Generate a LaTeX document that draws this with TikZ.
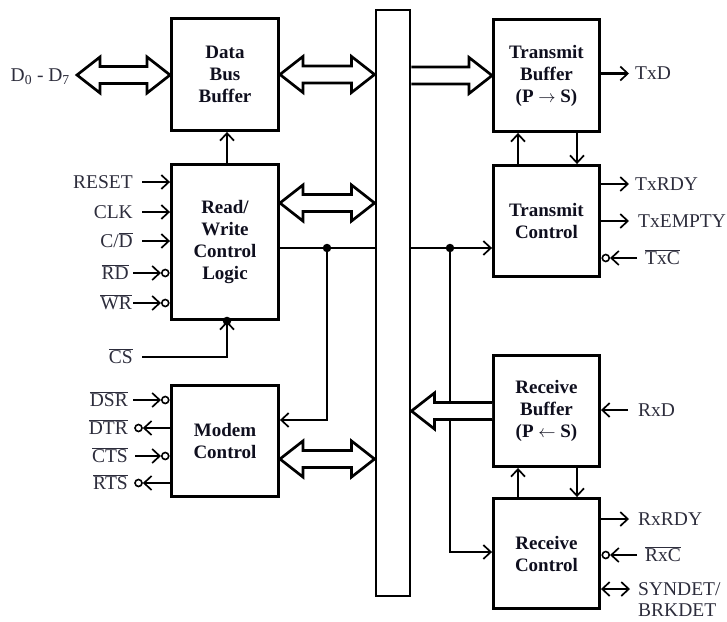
\documentclass[tikz,border=0pt]{standalone}
\usepackage{fontspec}
\setmainfont{Liberation Serif}
\usetikzlibrary{arrows.meta,calc}
\definecolor{lblc}{RGB}{45,45,60}
\definecolor{boxc}{RGB}{15,15,30}
\newcommand{\ovl}[1]{$\overline{\mbox{#1}}$}
% hollow double arrow, tips at #1 (left) and #2 (right)
\newcommand{\hdbl}[2]{\path[hollow] let \p1=#1, \p2=#2 in
 (\x1,\y1) -- (\x1+23pt,\y1+18pt) -- (\x1+23pt,\y1+8.5pt) -- (\x2-23pt,\y1+8.5pt) -- (\x2-23pt,\y1+18pt) -- (\x2,\y1) -- (\x2-23pt,\y1-18pt) -- (\x2-23pt,\y1-8.5pt) -- (\x1+23pt,\y1-8.5pt) -- (\x1+23pt,\y1-18pt) -- cycle;}
% hollow arrow, flat at #1, tip at #2 (pointing right)
\newcommand{\hright}[2]{\fill[white] let \p1=#1, \p2=#2 in
 (\x1,\y1+8.5pt) -- (\x2-23pt,\y1+8.5pt) -- (\x2-23pt,\y1+18pt) -- (\x2,\y1) -- (\x2-23pt,\y1-18pt) -- (\x2-23pt,\y1-8.5pt) -- (\x1,\y1-8.5pt) -- cycle;
 \draw[hollowline] let \p1=#1, \p2=#2 in
 (\x1,\y1+8.5pt) -- (\x2-23pt,\y1+8.5pt) -- (\x2-23pt,\y1+18pt) -- (\x2,\y1) -- (\x2-23pt,\y1-18pt) -- (\x2-23pt,\y1-8.5pt) -- (\x1,\y1-8.5pt);}
% hollow arrow, tip at #1 (pointing left), flat at #2
\newcommand{\hleft}[2]{\fill[white] let \p1=#1, \p2=#2 in
 (\x2,\y1+8.5pt) -- (\x1+23pt,\y1+8.5pt) -- (\x1+23pt,\y1+18pt) -- (\x1,\y1) -- (\x1+23pt,\y1-18pt) -- (\x1+23pt,\y1-8.5pt) -- (\x2,\y1-8.5pt) -- cycle;
 \draw[hollowline] let \p1=#1, \p2=#2 in
 (\x2,\y1+8.5pt) -- (\x1+23pt,\y1+8.5pt) -- (\x1+23pt,\y1+18pt) -- (\x1,\y1) -- (\x1+23pt,\y1-18pt) -- (\x1+23pt,\y1-8.5pt) -- (\x2,\y1-8.5pt);}
\begin{document}
\begin{tikzpicture}[x=1pt,y=-1pt,
 box/.style={draw, line width=2.9pt, inner sep=0pt, align=center, text=boxc, font=\fontsize{19}{22}\selectfont\bfseries},
 lbl/.style={inner sep=0pt, text=lblc, font=\fontsize{19.5}{22}\selectfont, text height=12.9pt, text depth=0pt},
 tipb/.tip={Straight Barb[length=7.5pt,width=14pt,line width=1.7pt]},
 sig/.style={line width=2.8pt, -tipb},
 sigo/.style={line width=2pt, -tipb},
 bub/.style={circle, draw, fill=white, line width=1.6pt, minimum size=7pt, inner sep=0pt},
 dotn/.style={circle, fill, minimum size=8.5pt, inner sep=0pt},
 hollow/.style={draw, fill=white, line width=2.7pt, line join=miter},
 hollowline/.style={draw, line width=2.7pt, line join=miter}]
\useasboundingbox (0,0) rectangle (727,621);

% blocks
\node[box, minimum width=107pt, minimum height=112pt] (dbb) at (225,74.5) {Data\\Bus\\Buffer};
\node[box, minimum width=107pt, minimum height=155pt] (rw) at (225,242) {Read/\\Write\\Control\\Logic};
\node[box, minimum width=107pt, minimum height=111pt] (mdm) at (225,441) {Modem\\Control};
\node[draw, fill=white, line width=2.9pt, minimum width=34pt, minimum height=586pt, inner sep=0pt] (bus) at (393,303) {};
\node[box, minimum width=106pt, minimum height=112pt] (tb) at (546.5,75.5) {Transmit\\Buffer\\(P $\rightarrow$ S)};
\node[box, minimum width=106pt, minimum height=111pt] (tc) at (546.5,221) {Transmit\\Control};
\node[box, minimum width=106pt, minimum height=111pt] (rb) at (546.5,411) {Receive\\Buffer\\(P $\leftarrow$ S)};
\node[box, minimum width=106pt, minimum height=110pt] (rc) at (546.5,553.5) {Receive\\Control};

% left labels
\node[lbl, anchor=east] (d07) at (70,75) {D\textsubscript{0} - D\textsubscript{7}};
\node[lbl, anchor=east] (reset) at (133,182) {RESET};
\node[lbl, anchor=east] (clk) at (133,212) {CLK};
\node[lbl, anchor=east] (cd) at (133,241) {C/\ovl{D}};
\node[lbl, anchor=east] (rd) at (129,273) {\ovl{RD}};
\node[lbl, anchor=east] (wr) at (132,303) {\ovl{WR}};
\node[lbl, anchor=east] (cs) at (133,357) {\ovl{CS}};
\node[lbl, anchor=east] (dsr) at (128,400) {\ovl{DSR}};
\node[lbl, anchor=east] (dtr) at (128,428) {\ovl{DTR}};
\node[lbl, anchor=east] (cts) at (128,456) {\ovl{CTS}};
\node[lbl, anchor=east] (rts) at (128,483) {\ovl{RTS}};

% right labels
\node[lbl, anchor=west] (txd) at (635,73.5) {TxD};
\node[lbl, anchor=west] (txrdy) at (635,184) {TxRDY};
\node[lbl, anchor=west] (txe) at (638,221) {TxEMPTY};
\node[lbl, anchor=west] (txc) at (645,258) {\ovl{TxC}};
\node[lbl, anchor=west] (rxd) at (638,410) {RxD};
\node[lbl, anchor=west] (rxrdy) at (638,519) {RxRDY};
\node[lbl, anchor=west] (rxc) at (645,555) {\ovl{RxC}};
\node[lbl, anchor=west] (syn) at (638,589) {SYNDET/};
\node[lbl, anchor=west] (brk) at (638,610) {BRKDET};

% bubbles
\node[bub] (rdb) at ([xshift=-4.8pt]rw.west |- rd.east) {};
\node[bub] (wrb) at ([xshift=-4.8pt]rw.west |- wr.east) {};
\node[bub] (dsrb) at ([xshift=-4.8pt]mdm.west |- dsr.east) {};
\node[bub] (dtrb) at ([xshift=10.5pt]dtr.east) {};
\node[bub] (ctsb) at ([xshift=-4.8pt]mdm.west |- cts.east) {};
\node[bub] (rtsb) at ([xshift=10.5pt]rts.east) {};
\node[bub] (txcb) at ([xshift=4.8pt]tc.east |- txc.west) {};
\node[bub] (rxcb) at ([xshift=4.8pt]rc.east |- rxc.west) {};

% R/W inputs
\draw[sig] ([xshift=9pt]reset.east) -- (rw.west |- reset.east);
\draw[sig] ([xshift=9pt]clk.east) -- (rw.west |- clk.east);
\draw[sig] ([xshift=9pt]cd.east) -- (rw.west |- cd.east);
\draw[sig] ([xshift=4pt]rd.east) -- (rdb.west);
\draw[sig] ([xshift=1pt]wr.east) -- (wrb.west);
\draw[sig] ([xshift=9pt]cs.east) -| ([xshift=2pt]rw.south);
\node[dotn] (csd) at ([xshift=2pt]rw.south) {};
\draw[sig] ([xshift=2pt]rw.north) -- ([xshift=2pt]dbb.south);

% modem signals
\draw[sig] ([xshift=5pt]dsr.east) -- (dsrb.west);
\draw[sigo] (mdm.west |- dtr.east) -- (dtrb.east);
\draw[sig] ([xshift=7pt]cts.east) -- (ctsb.west);
\draw[sigo] (mdm.west |- rts.east) -- (rtsb.east);

% internal control line
\node[dotn] (j1) at (327,248) {};
\node[dotn] (j2) at (450,248) {};
\draw[line width=2.8pt] (rw.east |- j1) -- (bus.west |- j1);
\draw[sig] (j1.center) |- (mdm.east |- 0,420);
\draw[sig] (bus.east |- j2) -- (tc.west |- j2);
\draw[sig] (j2.center) |- (rc.west |- 0,552);

% buffer/control pairs
\draw[sig] (tc.north -| 518,0) -- (tb.south -| 518,0);
\draw[sig] (tb.south -| 577,0) -- (tc.north -| 577,0);
\draw[sig] (rc.north -| 518,0) -- (rb.south -| 518,0);
\draw[sig] (rb.south -| 577,0) -- (rc.north -| 577,0);

% right side signals
\draw[sig] (tb.east |- txd.west) -- ([xshift=-6pt]txd.west);
\draw[sig] (tc.east |- txrdy.west) -- ([xshift=-6pt]txrdy.west);
\draw[sig] (tc.east |- txe.west) -- ([xshift=-9pt]txe.west);
\draw[sig] ([xshift=-8pt]txc.west) -- (txcb.east);
\draw[sig] ([xshift=-10pt]rxd.west) -- (rb.east |- rxd.west);
\draw[sig] (rc.east |- rxrdy.west) -- ([xshift=-9pt]rxrdy.west);
\draw[sig] ([xshift=-8pt]rxc.west) -- (rxcb.east);
\draw[line width=2.8pt, tipb-tipb] (rc.east |- syn.west) -- ([xshift=-8pt]syn.west);

% bus arrows
\hdbl{([xshift=7pt]d07.east)}{(dbb.west)}
\hdbl{(dbb.east)}{(bus.west |- dbb.east)}
\hdbl{(rw.east |- 0,203)}{(bus.west |- 0,203)}
\hdbl{(mdm.east |- 0,459)}{(bus.west |- 0,459)}
\hright{(bus.east |- tb.west)}{(tb.west)}
\hleft{(bus.east |- rb.west)}{(rb.west)}
\end{tikzpicture}
\end{document}
